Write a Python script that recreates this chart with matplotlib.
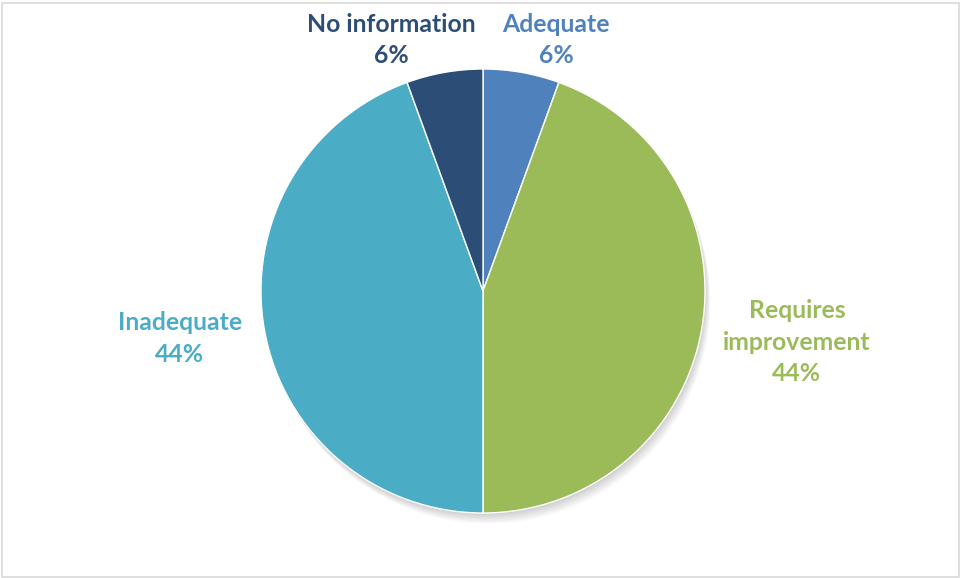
import matplotlib

matplotlib.use("Agg")

import matplotlib.pyplot as plt
from matplotlib.patches import Circle, Rectangle

categories = ["Adequate", "Requires improvement", "Inadequate", "No information"]
counts = [1, 8, 8, 1]
label_text = ["Adequate", "Requires\nimprovement", "Inadequate", "No information"]
colors = ["#4F81BD", "#9BBB59", "#4BACC6", "#2C4D75"]

# label centres in pie-radius units (centre at 0, 0)
label_pos = [(0.33, 1.13), (1.414, -0.23), (-1.365, -0.215), (-0.414, 1.13)]

W, H = 961, 578
fig = plt.figure(figsize=(W / 100, H / 100), dpi=100)
fig.patch.set_facecolor("white")

cx, cy, r = 483, 578 - 291, 222
ax = fig.add_axes([(cx - r) / W, (cy - r) / H, 2 * r / W, 2 * r / H])

# soft shadow under the pie
for i in range(1, 9):
    ax.add_patch(Circle((0.003 * i, -0.006 * i), 1.0, color="black",
                        alpha=0.025, lw=0, zorder=0, clip_on=False))

total = sum(counts)
wedges, _ = ax.pie(
    counts,
    colors=colors,
    startangle=90,
    counterclock=False,
    radius=1.0,
    wedgeprops={"edgecolor": "white", "linewidth": 1.0},
)
for wedge in wedges:
    wedge.set_zorder(2)

for text, count, (x, y), color in zip(label_text, counts, label_pos, colors):
    pct = round(100 * count / total)
    ax.text(x, y, f"{text}\n{pct}%", ha="center", va="center", color=color,
            fontsize=17.8, fontweight="bold", family="Lato", linespacing=1.45,
            zorder=3)

ax.set_xlim(-1, 1)
ax.set_ylim(-1, 1)
ax.set_aspect("equal")
ax.axis("off")

fig.add_artist(Rectangle((2 / W, 1 / H), (W - 4) / W, (H - 4) / H,
                         transform=fig.transFigure, fill=False,
                         edgecolor="#d9d9d9", linewidth=1.2))

fig.savefig("out.png", dpi=100, facecolor="white")
